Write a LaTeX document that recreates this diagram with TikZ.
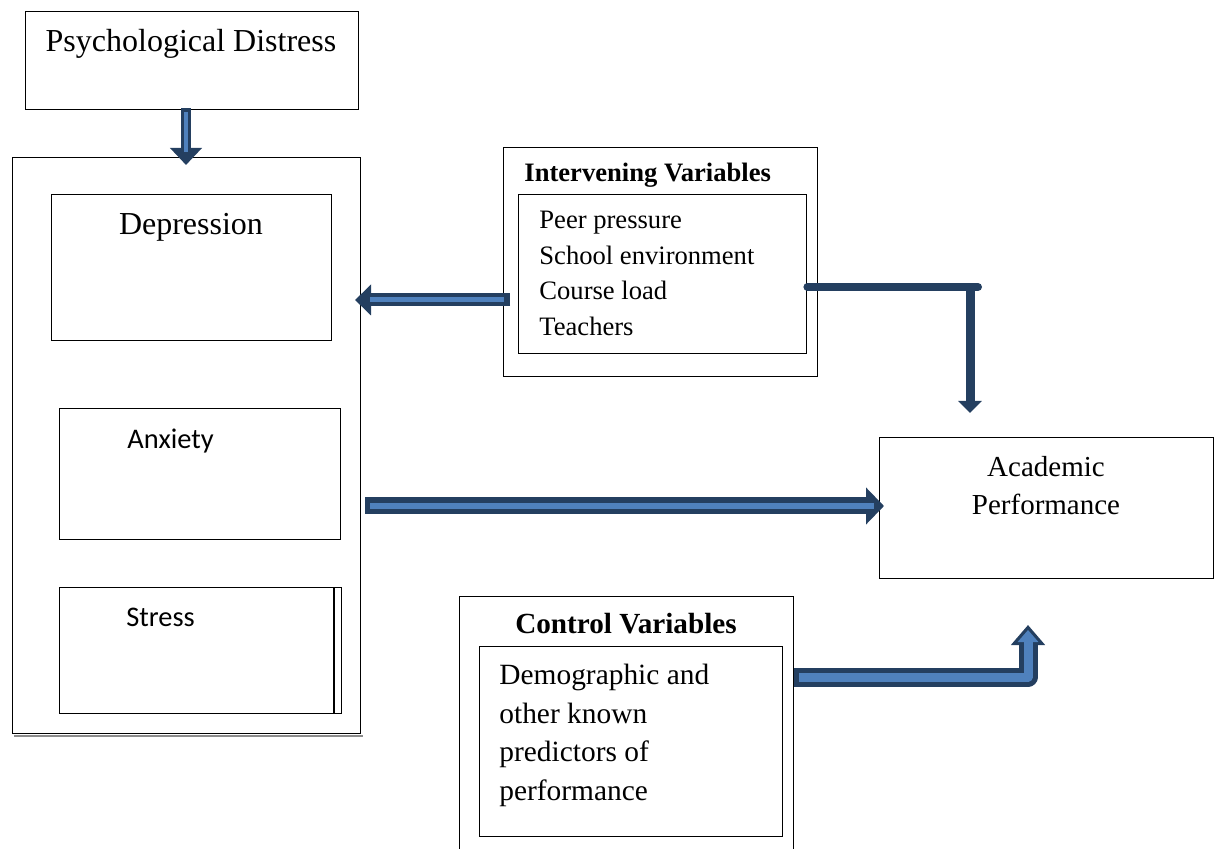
\documentclass[tikz,border=0pt]{standalone}
\usepackage{fontspec}
\setmainfont{Liberation Serif}
\newfontfamily\calfont{Carlito}
\usetikzlibrary{arrows.meta}

\definecolor{arrowdark}{HTML}{243F60}
\definecolor{arrowblue}{HTML}{4F81BD}

\begin{document}
\begin{tikzpicture}[x=0.5pt, y=-0.5pt,
        box/.style={draw=black, line width=0.7pt, anchor=north west, inner sep=0pt},
        txt/.style={inner sep=0pt, anchor=base west},
    ]
        \clip (0, 0) rectangle (1220, 849);

        % boxes
        \node[box, minimum width=166.5pt, minimum height=49pt] (psych_box) at (25, 11) {};
        \node[box, minimum width=174pt, minimum height=288pt] (panel_box) at (12, 157) {};
        \node[box, minimum width=140pt, minimum height=73pt] (depr_box) at (51, 194) {};
        \node[box, minimum width=140.5pt, minimum height=65.5pt] (anx_box) at (59, 408) {};
        \node[box, minimum width=137pt, minimum height=63pt] (stress_box) at (59, 587) {};
        \node[box, minimum width=157pt, minimum height=114.5pt] (iv_out) at (503, 147) {};
        \node[box, minimum width=144pt, minimum height=79.5pt] (iv_in) at (518, 194) {};
        \node[box, minimum width=167pt, minimum height=70.5pt] (acad_box) at (879, 437) {};
        \node[box, minimum width=167pt, minimum height=140pt] (ctrl_out) at (459, 596) {};
        \node[box, minimum width=151.5pt, minimum height=95pt] (ctrl_in) at (479, 646) {};

        \draw[black!45, line width=1.1pt] ([xshift=1pt, yshift=-0.8pt]panel_box.south west) -- ([xshift=1pt, yshift=-0.8pt]panel_box.south east);
        \draw[line width=0.9pt] (stress_box.north east) -- (stress_box.south east);
        \draw[line width=0.4pt] (stress_box.north east) rectangle ++(7, 126);

        % texts
        \node[inner sep=0pt, anchor=base, font=\fontsize{16}{19}\selectfont] (psych_text) at (191, 52) {Psychological Distress};
        \node[inner sep=0pt, anchor=base, font=\fontsize{16}{19}\selectfont] (depr_text) at (191, 235) {Depression};
        \node[txt, font=\calfont\fontsize{14.2}{17}\selectfont] (anx_text) at (127, 449) {Anxiety};
        \node[txt, font=\calfont\fontsize{14.2}{17}\selectfont] (stress_text) at (126, 626) {Stress};

        \node[txt, font=\bfseries\fontsize{13.3}{16}\selectfont] (iv_title) at (524, 182) {Intervening Variables};
        \node[txt, font=\fontsize{13.3}{16}\selectfont] (peer_text) at (539, 229) {Peer pressure};
        \node[txt, font=\fontsize{13.3}{16}\selectfont] (school_text) at (539, 265) {School environment};
        \node[txt, font=\fontsize{13.3}{16}\selectfont] (course_text) at (539, 300) {Course load};
        \node[txt, font=\fontsize{13.3}{16}\selectfont] (teach_text) at (539, 336) {Teachers};

        \node[inner sep=0pt, anchor=base, font=\fontsize{14.5}{17}\selectfont] (acad_text1) at (1046, 477) {Academic};
        \node[inner sep=0pt, anchor=base, font=\fontsize{14.5}{17}\selectfont] (acad_text2) at (1046, 515) {Performance};

        \node[inner sep=0pt, anchor=base, font=\bfseries\fontsize{14.6}{17}\selectfont] (ctrl_title) at (626, 633) {Control Variables};
        \node[txt, font=\fontsize{14.7}{17}\selectfont] (demo_text1) at (499, 684) {Demographic and};
        \node[txt, font=\fontsize{14.7}{17}\selectfont] (demo_text2) at (499, 723) {other known};
        \node[txt, font=\fontsize{14.7}{17}\selectfont] (demo_text3) at (499, 761) {predictors of};
        \node[txt, font=\fontsize{14.7}{17}\selectfont] (demo_text4) at (499, 800) {performance};

        % arrows
        \coordinate (down_tip) at (186, 165);
        \draw[arrowdark, line width=5pt, -{Triangle[width=15.5pt, length=8.5pt]}] ([yshift=1pt]psych_box.south -| down_tip) -- (down_tip);
        \draw[arrowblue, line width=1.6pt] ([yshift=-1pt]psych_box.south -| down_tip) -- ++(0, 40);

        \coordinate (left_tip) at (355, 300);
        \draw[arrowdark, line width=6.5pt, -{Triangle[width=15pt, length=8pt]}] ([xshift=-4pt]iv_in.west |- left_tip) -- (left_tip);
        \draw[arrowblue, line width=2.5pt] ([xshift=-7pt]iv_in.west |- left_tip) -- ++(-134, 0);

        \coordinate (main_tip) at (884, 506);
        \draw[arrowdark, line width=8.5pt, -{Triangle[width=18pt, length=9pt]}] ([xshift=2pt]panel_box.east |- main_tip) -- (main_tip);
        \draw[arrowblue, line width=3pt] ([xshift=4.5pt]panel_box.east |- main_tip) -- ++(504, 0);

        \coordinate (iv_corner) at (970, 287);
        \coordinate (iv_tip) at (970, 413);
        \draw[arrowdark, line width=4pt, line cap=round] (iv_in.east |- iv_corner) -- ([xshift=4pt]iv_corner);
        \draw[arrowdark, line width=4.5pt, -{Triangle[width=11.5pt, length=6pt]}] (iv_corner) -- (iv_tip);

        \coordinate (ctrl_bend) at (1028, 677);
        \coordinate (ctrl_tip) at (1028, 625);
        \draw[arrowdark, line width=9.5pt, line join=round, -{Triangle[width=16.5pt, length=10pt]}] (ctrl_out.east |- ctrl_bend) -- (ctrl_bend) -- (ctrl_tip);
        \draw[arrowblue, line width=4.5pt, line join=round, shorten >=2.5pt, -{Triangle[width=10pt, length=6pt]}] ([xshift=2.5pt]ctrl_out.east |- ctrl_bend) -- (ctrl_bend) -- (ctrl_tip);
    \end{tikzpicture}
\end{document}
